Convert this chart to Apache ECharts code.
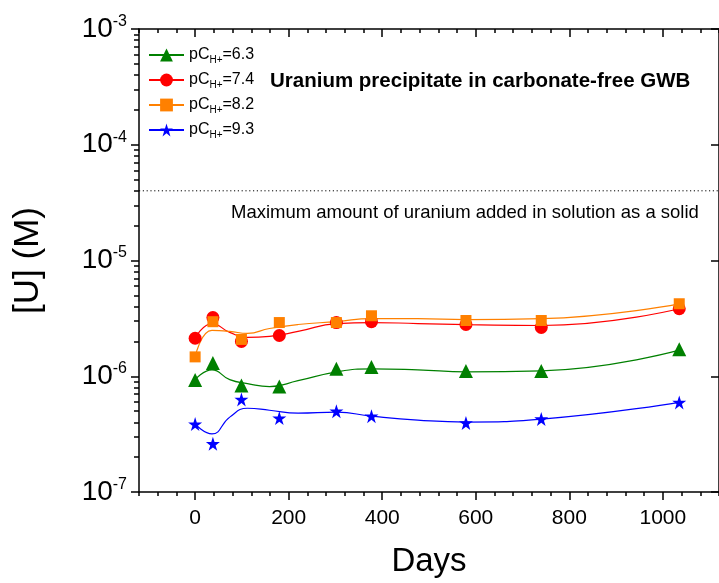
<!DOCTYPE html>
<html>
<head>
<meta charset="utf-8">
<script src="https://cdn.jsdelivr.net/npm/echarts@6/dist/echarts.min.js"></script>
<style>
  html, body { margin: 0; padding: 0; background: #fff; }
  #chart { width: 719px; height: 583px; }
</style>
</head>
<body>
<div id="chart"></div>
<script>
// Measured uranium concentrations (M) versus time (days)
const days = [0, 38, 99, 180, 302, 377, 579, 740, 1035];
const u63 = [9.3e-7, 1.30e-6, 8.3e-7, 8.15e-7, 1.16e-6, 1.20e-6, 1.11e-6, 1.11e-6, 1.71e-6];
const u74 = [2.13e-6, 3.21e-6, 2.00e-6, 2.25e-6, 2.91e-6, 2.96e-6, 2.80e-6, 2.64e-6, 3.83e-6];
const u82 = [1.47e-6, 2.96e-6, 2.08e-6, 2.91e-6, 2.91e-6, 3.33e-6, 3.03e-6, 3.03e-6, 4.23e-6];
const u93 = [3.86e-7, 2.61e-7, 6.31e-7, 4.35e-7, 4.99e-7, 4.52e-7, 3.95e-7, 4.27e-7, 5.94e-7];

// Smoothed trend curves drawn through each data set
const curveDays = [0, 36, 74, 112, 159, 220, 303, 377, 476, 580, 741, 1035];
const fit63 = [9.34e-7, 1.136e-6, 9.34e-7, 8.64e-7, 8.14e-7, 9.16e-7, 1.092e-6, 1.158e-6, 1.136e-6, 1.092e-6, 1.114e-6, 1.68e-6];
const fit74 = [2.127e-6, 2.853e-6, 2.391e-6, 2.169e-6, 2.212e-6, 2.439e-6, 2.853e-6, 2.910e-6, 2.853e-6, 2.798e-6, 2.744e-6, 3.828e-6];
const fit82 = [1.466e-6, 2.487e-6, 2.439e-6, 2.346e-6, 2.587e-6, 2.798e-6, 2.967e-6, 3.147e-6, 3.147e-6, 3.086e-6, 3.147e-6, 4.222e-6];
const fit93 = [3.866e-7, 3.178e-7, 4.435e-7, 5.29e-7, 5.086e-7, 4.797e-7, 4.893e-7, 4.522e-7, 4.181e-7, 4.02e-7, 4.263e-7, 5.95e-7];

const pcValues = ['6.3', '7.4', '8.2', '9.3'];
// Maximum amount of uranium added as a solid (M)
const maxAddedDays = [-120, 1120];
const maxAdded = [4.0e-5, 4.0e-5];

// Axis ticks
const xMajor = [0, 200, 400, 600, 800, 1000];
const xMinor = [];
for (let v = -120; v <= 1120; v += 40) xMinor.push(v);
const yDecades = [-7, -6, -5, -4, -3];
const yMinorLog = [];
for (let d = -7; d < -3; d++) {
  for (let k = 2; k <= 9; k++) yMinorLog.push(d + Math.log10(k));
}

const FONT = 'Liberation Sans, Arial, sans-serif';
const colors = ['#008000', '#ff0000', '#ff8000', '#0000ff'];
const STAR = 'path://M50,0 L61.2,34.5 L97.6,34.5 L68.2,55.9 L79.4,90.5 L50,69.1 L20.6,90.5 L31.8,55.9 L2.4,34.5 L38.8,34.5 Z';
const symbols = ['triangle', 'circle', 'rect', STAR];
const sizes = [14, 13, 11, 14];
const values = [u63, u74, u82, u93];
const fits = [fit63, fit74, fit82, fit93];
const names = pcValues.map(v => 'pCH+=' + v);

const axisColor = '#000';
const lineW = 1.5;

function tickAxisX(position, customValues, len, inside) {
  return {
    type: 'value', position, min: -120, max: 1120,
    axisLine: { show: false, onZero: false },
    axisTick: { customValues, length: len, inside, lineStyle: { color: axisColor, width: lineW } },
    axisLabel: { show: false },
    splitLine: { show: false }
  };
}
function tickAxisY(position, customValues, len, inside) {
  return {
    type: 'value', position, min: -7, max: -3,
    axisLine: { show: false, onZero: false },
    axisTick: { customValues, length: len, inside, lineStyle: { color: axisColor, width: lineW } },
    axisLabel: { show: false },
    splitLine: { show: false }
  };
}

const series = [];
fits.forEach((fit, i) => {
  series.push({
    name: names[i],
    type: 'line',
    xAxisIndex: 0, yAxisIndex: 0,
    data: curveDays.map((d, j) => [d, fit[j]]),
    smooth: 0.5,
    symbol: symbols[i],
    symbolSize: sizes[i],
    showSymbol: false,
    lineStyle: { color: colors[i], width: 1.2 },
    itemStyle: { color: colors[i] },
    z: 2,
    silent: true
  });
});
values.forEach((vals, i) => {
  series.push({
    name: names[i],
    type: 'scatter',
    xAxisIndex: 0, yAxisIndex: 0,
    data: days.map((d, j) => [d, vals[j]]),
    symbol: symbols[i],
    symbolSize: sizes[i],
    itemStyle: { color: colors[i], opacity: 1 },
    z: 3
  });
});
series.push({
  name: 'max added',
  type: 'line',
  xAxisIndex: 0, yAxisIndex: 0,
  data: maxAddedDays.map((d, j) => [d, maxAdded[j]]),
  symbol: 'none',
  silent: true,
  lineStyle: { color: '#000', width: 1, type: [1.2, 2.6] },
  z: 1
});

const option = {
  animation: false,
  backgroundColor: '#fff',
  grid: { left: 139, top: 29, width: 586, height: 470, containLabel: false },
  title: [
    {
      text: 'Uranium precipitate in carbonate-free GWB',
      left: 270, top: 71, padding: 0,
      textStyle: { fontSize: 20.5, fontWeight: 'bold', color: '#000', fontFamily: FONT }
    },
    {
      text: 'Maximum amount of uranium added in solution as a solid',
      left: 231, top: 203, padding: 0,
      textStyle: { fontSize: 18.5, fontWeight: 'normal', color: '#000', fontFamily: FONT }
    }
  ],
  legend: {
    orient: 'vertical',
    left: 148, top: 47,
    itemWidth: 35, itemHeight: 16, itemGap: 7,
    padding: 0,
    data: names,
    formatter: n => n.replace('pCH+', 'pC{s|H+}'),
    textStyle: {
      fontSize: 16, color: '#000', fontFamily: FONT,
      rich: { s: { fontSize: 10, fontFamily: FONT, color: '#000', padding: [10, 0, 0, 0] } }
    },
    selectedMode: false
  },
  xAxis: [
    {
      type: 'value', position: 'bottom', min: -120, max: 1120,
      axisLine: { onZero: false, lineStyle: { color: axisColor, width: lineW } },
      axisTick: { customValues: xMajor, length: 8, lineStyle: { color: axisColor, width: lineW } },
      axisLabel: { customValues: xMajor, formatter: v => String(v), color: '#000', fontSize: 21, fontFamily: FONT, margin: 16 },
      splitLine: { show: false },
      name: 'Days', nameLocation: 'middle', nameGap: 53,
      nameTextStyle: { fontSize: 33, color: '#000', fontFamily: FONT }
    },
    tickAxisX('bottom', xMinor, 4, false),
    {
      type: 'value', position: 'top', min: -120, max: 1120,
      axisLine: { onZero: false, lineStyle: { color: axisColor, width: lineW } },
      axisTick: { customValues: xMajor, length: 8, inside: true, lineStyle: { color: axisColor, width: lineW } },
      axisLabel: { show: false },
      splitLine: { show: false }
    },
    tickAxisX('top', xMinor, 4, true)
  ],
  yAxis: [
    {
      type: 'log', logBase: 10, min: 1e-7, max: 1e-3, position: 'left',
      axisLine: { show: true, onZero: false, lineStyle: { color: axisColor, width: lineW } },
      axisTick: { show: false },
      axisLabel: {
        color: '#000', fontFamily: FONT, margin: 12,
        formatter: v => '{b|10}{s|' + Math.round(Math.log10(v)) + '}',
        rich: {
          b: { fontSize: 28, fontFamily: FONT, color: '#000' },
          s: { fontSize: 16, fontFamily: FONT, color: '#000', padding: [0, 0, 15, 0] }
        }
      },
      splitLine: { show: false },
      name: '[U] (M)', nameLocation: 'middle', nameGap: 93,
      nameTextStyle: { fontSize: 35, color: '#000', fontFamily: FONT }
    },
    tickAxisY('left', yDecades, 8, false),
    tickAxisY('left', yMinorLog, 5, false),
    {
      type: 'value', position: 'right', min: -7, max: -3,
      axisLine: { show: true, onZero: false, lineStyle: { color: axisColor, width: lineW } },
      axisTick: { customValues: yDecades, length: 8, inside: true, lineStyle: { color: axisColor, width: lineW } },
      axisLabel: { show: false },
      splitLine: { show: false }
    }
  ],
  series
};

const chart = echarts.init(document.getElementById('chart'), null, { renderer: 'canvas' });
chart.setOption(option);
</script>
</body>
</html>
